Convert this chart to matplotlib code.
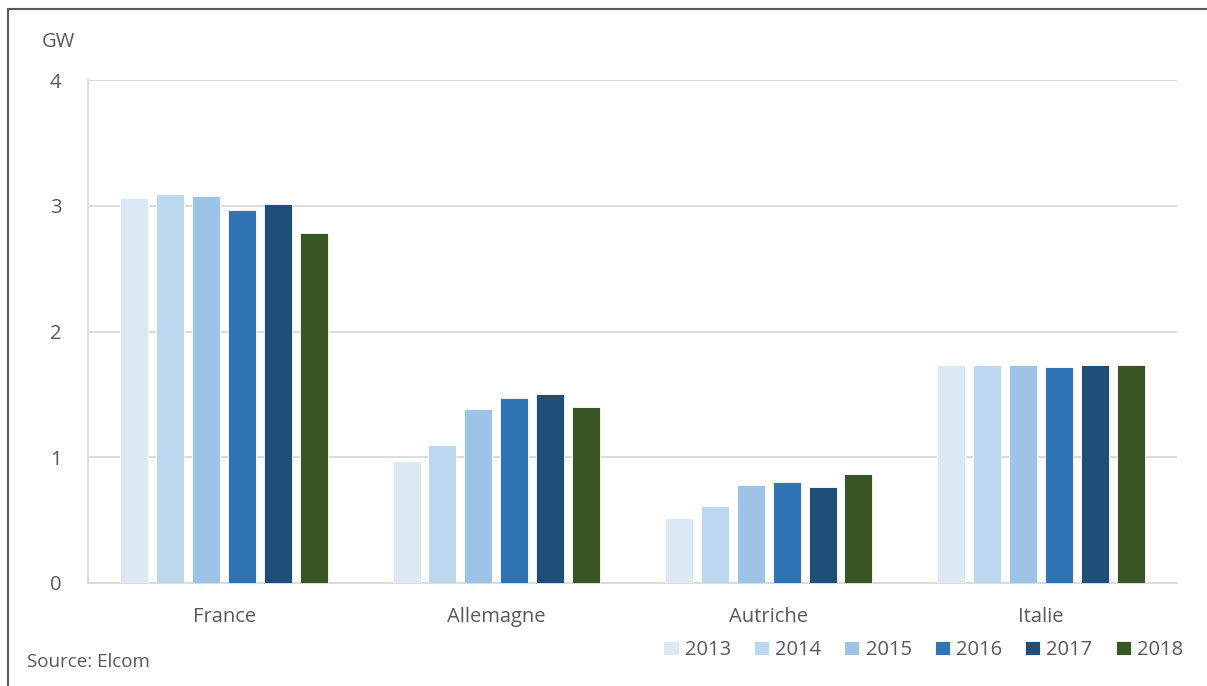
import matplotlib.pyplot as plt
from matplotlib.lines import Line2D
import numpy as np

plt.rcParams['font.family'] = ['Open Sans', 'DejaVu Sans']

countries = ["France", "Allemagne", "Autriche", "Italie"]
years = ["2013", "2014", "2015", "2016", "2017", "2018"]
values = {
    "2013": [3.06, 0.97, 0.52, 1.73],
    "2014": [3.09, 1.10, 0.61, 1.73],
    "2015": [3.08, 1.38, 0.78, 1.73],
    "2016": [2.97, 1.47, 0.80, 1.72],
    "2017": [3.01, 1.50, 0.76, 1.73],
    "2018": [2.78, 1.40, 0.87, 1.73],
}
colors = ["#DDE8F5", "#BDD7EE", "#9DC3E6", "#2E75B6", "#1F4E79", "#3A5524"]
text_col = "#595959"

fig = plt.figure(figsize=(12.07, 6.86), dpi=100)
ax = fig.add_axes([88/1207, 1 - 583/686, (1177-88)/1207, (583-80)/686])

x = np.arange(len(countries))
pitch = 0.132
width = 0.103
for i, yr in enumerate(years):
    ax.bar(x + (i - 2.5) * pitch, values[yr], width, color=colors[i],
           edgecolor="white", linewidth=0.6, label=yr, zorder=3)

ax.set_xlim(-0.5, 3.5)
ax.set_ylim(0, 4)
ax.set_yticks([0, 1, 2, 3, 4])
ax.set_xticks(x)
ax.set_xticklabels(countries)
ax.tick_params(axis="both", length=0, labelsize=14.5, colors=text_col)
ax.tick_params(axis="y", pad=19)
ax.tick_params(axis="x", pad=17)
ax.grid(axis="y", color="#D9D9D9", linewidth=1.3, zorder=0)
for s in ["top", "right"]:
    ax.spines[s].set_visible(False)
for s in ["left", "bottom"]:
    ax.spines[s].set_color("#D9D9D9")
    ax.spines[s].set_linewidth(1.3)

fig.text(42/1207, 1 - 42/686, "GW", fontsize=14.5, color=text_col, va="center")
fig.text(27/1207, 1 - 662/686, "Source: Elcom", fontsize=13.5, color=text_col, va="center")

leg = fig.legend(loc="center right", bbox_to_anchor=(1191/1207, 1 - 650/686), ncol=6,
                 frameon=False, fontsize=14.5, handlelength=0.75, handleheight=0.75,
                 handletextpad=0.3, columnspacing=1.15, borderaxespad=0)
for t in leg.get_texts():
    t.set_color(text_col)

# outer frame (top and left edges)
fig.add_artist(Line2D([8/1207, 8/1207], [0, 1 - 9/686], transform=fig.transFigure, color="#595959", linewidth=1.5))
fig.add_artist(Line2D([8/1207, 1], [1 - 9/686, 1 - 9/686], transform=fig.transFigure, color="#595959", linewidth=1.5))

fig.savefig("out.png", dpi=100)
